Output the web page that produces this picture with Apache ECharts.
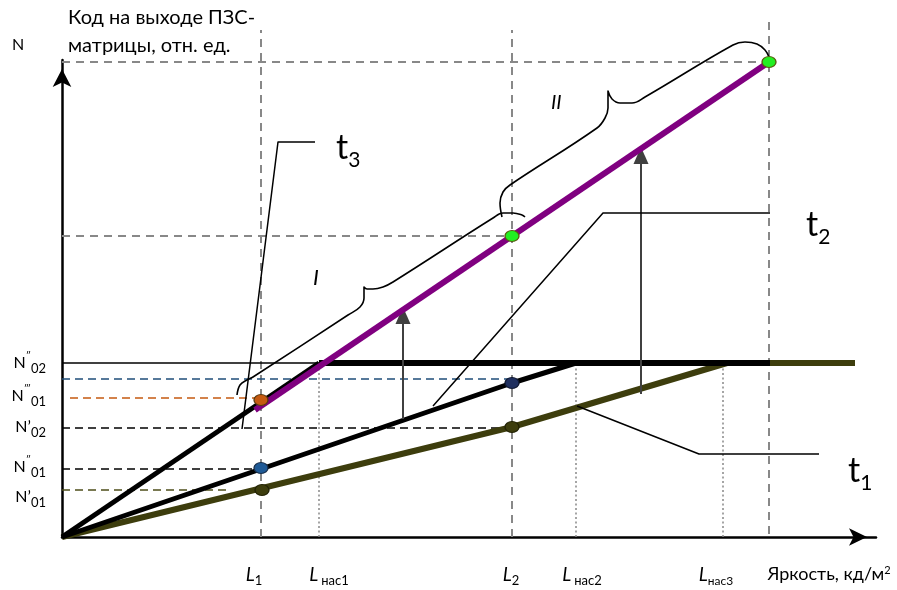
<!DOCTYPE html>
<html><head><meta charset="utf-8">
<script src="https://cdn.jsdelivr.net/npm/echarts@6/dist/echarts.min.js"></script>
<style>html,body{margin:0;padding:0;background:#fff}#c{width:897px;height:590px}</style>
</head><body><div id="c"></div>
<script>
// Units: x — яркость (отн. ед.), y — код на выходе (отн. ед.)
const t1Curve = [[0,0],[450,110],[665,174],[793,174]];
const t2Curve = [[0,0],[199,68],[450,154],[514,174]];
const t3Curve = [[0,0],[257,174]];
const satThin = [[0,174],[257,174]];
const satThick = [[257,174],[708,174]];
const shiftedCurve = [[193,127],[707,475]];

const levelBlue = [[0,158],[450,158]];
const levelOrange = [[8,139],[199,139]];
const levelN02p = [[0,109],[450,109]];
const levelN01pp = [[0,68],[199,68]];
const levelN01p = [[0,47],[165,47]];

const grayH = [[[0,301],[450,301]], [[0,475],[707,475]]];
const grayV = [[[199,0],[199,507]], [[450,0],[450,507]], [[707,3],[707,515]]];
const satV = [[[257,0],[257,174]], [[514,0],[514,174]], [[661,0],[661,174]]];

const ptOrange = [[199,137]];
const ptBlue = [[199,69]];
const ptOlive = [[200,47],[450,110]];
const ptNavy = [[450,154]];
const ptGreen = [[450,301],[707,475]];

const calloutT3 = [[180,108],[216,395],[253,395]];
const calloutT2 = [[371,131],[541,324],[708,324]];
const calloutT1 = [[515,131],[637,83],[757,83]];

const arrows = [[341,118,229],[579,143,389]]; // x, from, to

const braceI = [[175,142],[178,152],[185,157],[191,160],[286,222],[298,230],[302,239],[302,250],[305,248],[311,248],[321,250],[331,255],[431,319],[441,324],[451,324],[460,322],[463,320]];
const braceII = [[440,320],[438,334],[441,345],[448,352],[535,409],[543,419],[546,429],[546,446],[550,438],[558,434],[570,434],[583,440],[671,492],[683,495],[695,493],[703,487],[707,480]];

const yTickPos = [174,141,110,70,40];
const yTickText = ['{n|N}{sup|″}{sub|02}','{n|N}{sup|‴}{sub|01}','{n|N’}{sub|02}','{n|N}{sup|″}{sub|01}','{n|N’}{sub|01}'];
const xTickPos = [192,267,449,520,654,767];
const xTickText = ['{l|L}{s|1}','{l|L} {s|нас1}','{l|L}{s|2}','{l|L} {s|нас2}','{l|L}{s2|нас3}','{t|Яркость, кд/м}{sup|2}'];

const FONT = 'Lato, "Open Sans", sans-serif';
function ln(data, color, width, type, z, extra) {
  return Object.assign({type:'line', data, symbol:'none', showSymbol:false, clip:false, silent:true, animation:false,
    lineStyle:{color, width, type: type || 'solid', cap:'butt', join:'round'}, z: z || 2}, extra || {});
}
function pts(data, color, border, z) {
  return {type:'scatter', data, symbol:'circle', symbolSize:[14,11], clip:false, silent:true, animation:false,
    itemStyle:{color, borderColor:border, borderWidth:1.2, opacity:1}, z: z || 10};
}
const series = [];
grayH.forEach(d => series.push(ln(d,'#888',2,[8,6],1)));
grayV.forEach(d => series.push(ln(d,'#888',2,[8,6],1)));
satV.forEach(d => series.push(ln(d,'#888',1.5,[2,2.5],1)));
series.push(ln(levelBlue,'#1f4e79',1.5,[8,5],1));
series.push(ln(levelOrange,'#c55a11',1.5,[8,5],1));
series.push(ln(levelN02p,'#000',1.5,[8,5],1));
series.push(ln(levelN01pp,'#000',1.5,[8,5],1));
series.push(ln(levelN01p,'#4d4d1a',1.5,[8,5],1));
series.push(ln(satThin,'#000',1.5,'solid',2));
series.push(ln(t1Curve,'#3d3d0d',6,'solid',3));
series.push(ln(t2Curve,'#000',5,'solid',4));
series.push(ln(t3Curve,'#000',5,'solid',4));
series.push(ln(satThick,'#000',6,'solid',4));
series.push(ln(shiftedCurve,'#800080',6,'solid',5));
series.push(ln(calloutT3,'#000',1.5,'solid',6));
series.push(ln(calloutT2,'#000',1.5,'solid',6));
series.push(ln(calloutT1,'#000',1.5,'solid',6));
series.push(ln(braceI,'#000',1.6,'solid',6,{smooth:0.4}));
series.push(ln(braceII,'#000',1.6,'solid',6,{smooth:0.4}));
const AH = 17;
series.push({type:'line', data:[], silent:true, animation:false, markLine:{
  silent:true, animation:false, symbol:['none','triangle'], symbolSize:[15,AH],
  label:{show:false}, lineStyle:{color:'#404040', width:2, type:'solid'},
  data: arrows.map(a => [{coord:[a[0],a[1]]},{coord:[a[0],a[2]-AH/2+1]}])
}, z:7});
series.push(pts(ptOrange,'#c55a11','#5a3a10'));
series.push(pts(ptBlue,'#1f5a96','#1a2f4a'));
series.push(pts(ptOlive,'#3d3d0d','#222205'));
series.push(pts(ptNavy,'#1f2f5f','#101830'));
series.push(pts(ptGreen,'#22ee22','#5a5a10'));

const chart = echarts.init(document.getElementById('c'), null, {renderer:'canvas'});
chart.setOption({
  animation:false,
  backgroundColor:'#fff',
  grid:{left:62, right:21, top:60, bottom:53, containLabel:false},
  xAxis:{type:'value', min:0, max:814, splitLine:{show:false}, axisTick:{show:false},
    axisLine:{show:true, onZero:false, lineStyle:{color:'#000', width:2.5}, symbol:['none','arrow'], symbolSize:[13,18], symbolOffset:[0,-9]},
    axisLabel:{show:true, customValues:xTickPos, margin:28, color:'#000', fontFamily:FONT,
      formatter:(v)=>xTickText[xTickPos.indexOf(v)] || '',
      rich:{l:{fontSize:19, fontStyle:'italic', fontFamily:FONT, color:'#000', verticalAlign:'bottom'},
            s:{fontSize:13, fontFamily:FONT, color:'#000', verticalAlign:'bottom', padding:[0,0,-3,0]},
            s2:{fontSize:12, fontFamily:FONT, color:'#000', verticalAlign:'bottom', padding:[0,0,-3,0]},
            t:{fontSize:18, fontFamily:FONT, color:'#000', verticalAlign:'bottom'},
            sup:{fontSize:11, fontFamily:FONT, color:'#000', verticalAlign:'top'}}}},
  yAxis:{type:'value', min:0, max:477, splitLine:{show:false}, axisTick:{show:false},
    axisLine:{show:true, onZero:false, lineStyle:{color:'#000', width:2.5}, symbol:['none','arrow'], symbolSize:[14,18], symbolOffset:[0,-9]},
    axisLabel:{show:true, customValues:yTickPos, margin:16, color:'#000', fontFamily:FONT,
      formatter:(v)=>yTickText[yTickPos.indexOf(v)] || '',
      rich:{n:{fontSize:16, fontFamily:FONT, color:'#000', lineHeight:24},
            sup:{fontSize:10, fontFamily:FONT, color:'#000', verticalAlign:'top', lineHeight:24},
            sub:{fontSize:13, fontFamily:FONT, color:'#000', verticalAlign:'bottom', lineHeight:24}}}},
  graphic:[
    {type:'text', left:12, top:37, style:{text:'N', font:'16px '+FONT, fill:'#000'}},
    {type:'text', left:68, top:8, style:{text:'Код на выходе ПЗС-', font:'20px '+FONT, fill:'#000'}},
    {type:'text', left:68, top:36, style:{text:'матрицы, отн. ед.', font:'20px '+FONT, fill:'#000'}},
    {type:'text', left:336, top:131, style:{text:'{a|t}{b|3}', rich:{a:{fontSize:34, fontFamily:FONT, verticalAlign:'bottom'}, b:{fontSize:21, fontFamily:FONT, verticalAlign:'bottom', padding:[0,0,-6,0]}}}},
    {type:'text', left:806, top:208, style:{text:'{a|t}{b|2}', rich:{a:{fontSize:34, fontFamily:FONT, verticalAlign:'bottom'}, b:{fontSize:21, fontFamily:FONT, verticalAlign:'bottom', padding:[0,0,-6,0]}}}},
    {type:'text', left:848, top:454, style:{text:'{a|t}{b|1}', rich:{a:{fontSize:34, fontFamily:FONT, verticalAlign:'bottom'}, b:{fontSize:21, fontFamily:FONT, verticalAlign:'bottom', padding:[0,0,-6,0]}}}},
    {type:'text', left:313, top:267, style:{text:'I', font:'italic 22px '+FONT, fill:'#000'}},
    {type:'text', left:551, top:93, style:{text:'II', font:'italic 20px '+FONT, fill:'#000'}}
  ],
  series
});
</script></body></html>
